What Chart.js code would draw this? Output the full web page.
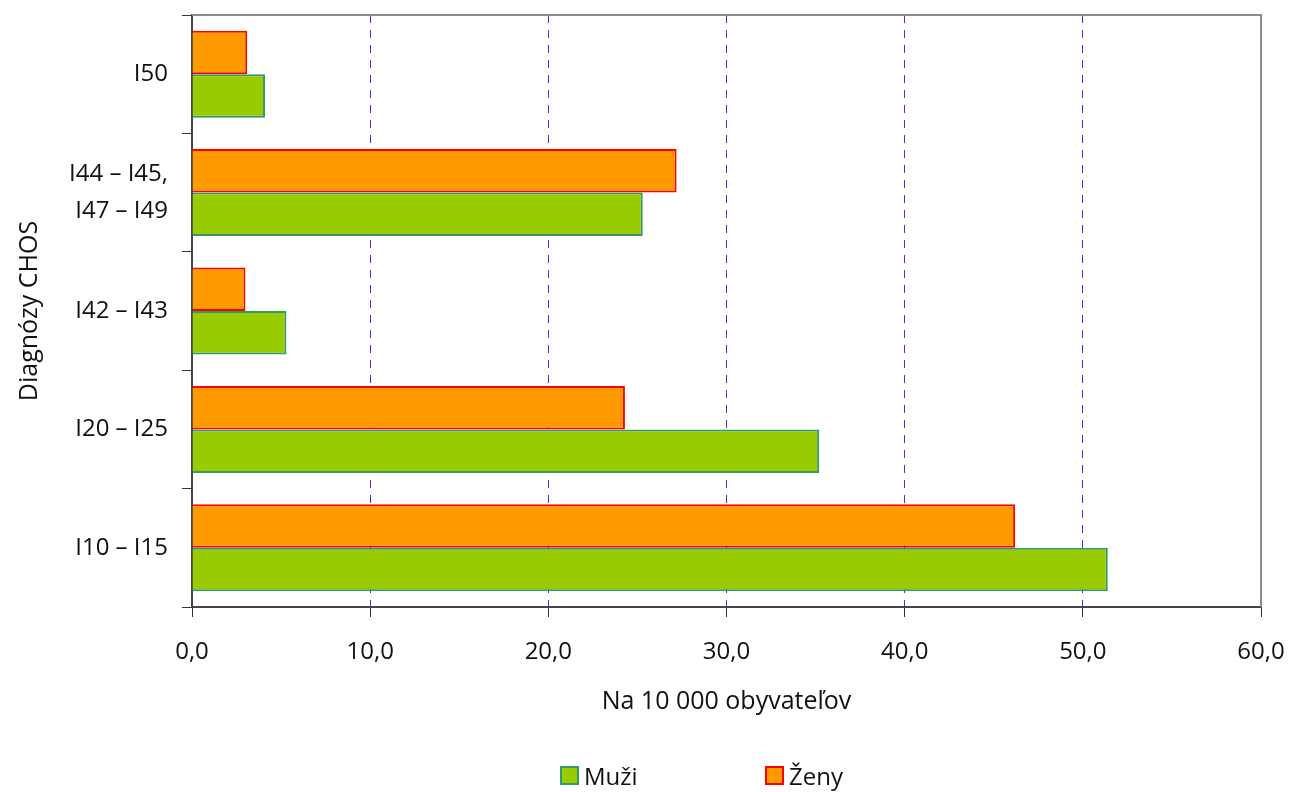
<!DOCTYPE html>
<html>
<head>
<meta charset="utf-8">
<script src="https://cdn.jsdelivr.net/npm/chart.js@4"></script>
<style>
  html, body { margin: 0; padding: 0; background: #fff; }
  #wrap { position: relative; width: 1295px; height: 792px; }
  #legend { position: absolute; left: 0; top: 759px; width: 1295px; font-family: "Open Sans", sans-serif; font-size: 24px; color: #111; }
  .item { position: absolute; top: 0; display: flex; align-items: center; }
  .box { width: 15px; height: 15px; border: 2px solid; margin-right: 5px; }
</style>
</head>
<body>
<div id="wrap">
  <canvas id="c" width="1295" height="792"></canvas>
  <div id="legend"></div>
</div>
<script>
const categories = ["I50", ["I44 – I45,", "I47 – I49"], "I42 – I43", "I20 – I25", "I10 – I15"];
const zenyValues = [3.1, 27.2, 3.0, 24.3, 46.2];
const muziValues = [4.1, 25.3, 5.3, 35.2, 51.4];
const seriesNames = ["Muži", "Ženy"];
const xTitle = "Na 10 000 obyvateľov";
const yTitle = "Diagnózy CHOS";

const FONT = '"Open Sans", sans-serif';
const FS = 24;
const FT = 25;
const green = "#99CC00", greenBorder = "#339966";
const orange = "#FF9900", orangeBorder = "#FF0000";
const gridBlue = "#3333FF";

const frame = {
  id: "frame",
  afterDatasetsDraw(ch) {
    const a = ch.chartArea, ctx = ch.ctx;
    ctx.save();
    ctx.strokeStyle = "#8c8c8c";
    ctx.lineWidth = 2;
    ctx.beginPath();
    ctx.moveTo(a.left, a.top);
    ctx.lineTo(a.right, a.top);
    ctx.lineTo(a.right, a.bottom);
    ctx.stroke();
    ctx.restore();
  }
};

const chart = new Chart(document.getElementById("c"), {
  type: "bar",
  data: {
    labels: categories,
    datasets: [
      { label: seriesNames[1], data: zenyValues, backgroundColor: orange, borderColor: orangeBorder, borderWidth: 2, categoryPercentage: 0.735, barPercentage: 1.0 },
      { label: seriesNames[0], data: muziValues, backgroundColor: green, borderColor: greenBorder, borderWidth: 2, categoryPercentage: 0.735, barPercentage: 1.0 }
    ]
  },
  options: {
    indexAxis: "y",
    responsive: false,
    animation: false,
    layout: { padding: { top: 15, right: 34, left: 0, bottom: 0 } },
    plugins: { legend: { display: false }, tooltip: { enabled: false } },
    scales: {
      x: {
        min: 0, max: 60,
        ticks: { stepSize: 10, color: "#111", font: { family: FONT, size: FS }, padding: 21,
          callback: v => v.toFixed(1).replace(".", ",") },
        grid: {
          color: ctx => (ctx.index === 0 || (ctx.tick && ctx.tick.value === 60)) ? "rgba(0,0,0,0)" : gridBlue,
          lineWidth: 1,
          tickColor: "#333", tickLength: 10, tickBorderDash: []
        },
        border: { display: true, color: "#444", width: 2, dash: [8, 7] },
        title: { display: true, text: xTitle, color: "#111", font: { family: FONT, size: FT }, padding: { top: 0, bottom: 75 } },
        afterFit: s => { s.height = 185; s.paddingLeft = 0; s.paddingRight = 0; }
      },
      y: {
        ticks: { color: "#111", font: { family: FONT, size: FS, lineHeight: 1.55 }, padding: 14 },
        grid: {
          offset: true,
          drawOnChartArea: false,
          tickColor: "#333", tickLength: 10
        },
        border: { display: true, color: "#444", width: 2 },
        title: { display: true, text: yTitle, color: "#111", font: { family: FONT, size: FT }, padding: { top: 15, bottom: 0 } },
        afterFit: s => { s.width = 192; s.paddingTop = 0; s.paddingBottom = 0; }
      }
    }
  },
  plugins: [frame]
});

const legend = document.getElementById("legend");
const items = [
  { name: seriesNames[0], bg: green, bd: greenBorder, left: 560 },
  { name: seriesNames[1], bg: orange, bd: orangeBorder, left: 765 }
];
items.forEach(it => {
  const d = document.createElement("div");
  d.className = "item";
  d.style.left = it.left + "px";
  d.innerHTML = '<span class="box" style="background:' + it.bg + ';border-color:' + it.bd + '"></span><span>' + it.name + '</span>';
  legend.appendChild(d);
});
</script>
</body>
</html>
